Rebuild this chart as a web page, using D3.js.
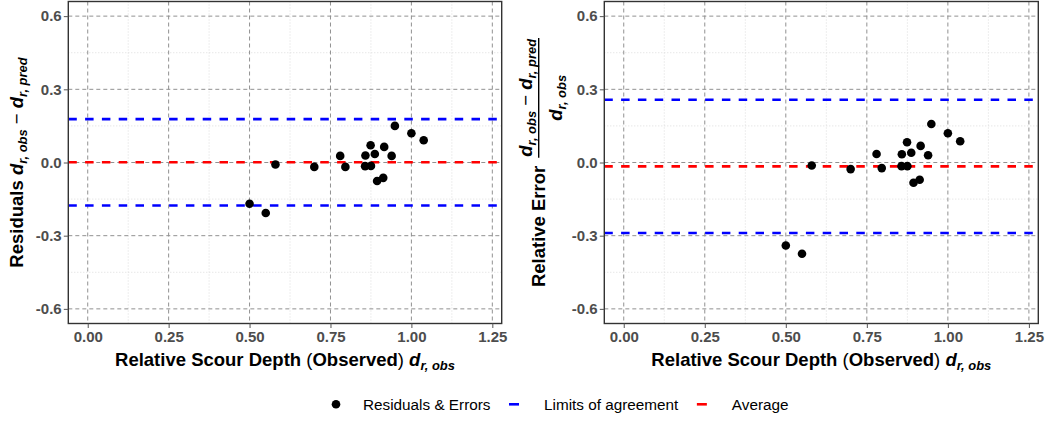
<!DOCTYPE html>
<html>
<head>
<meta charset="utf-8">
<script src="https://cdn.jsdelivr.net/npm/d3@7"></script>
<style>
  html, body { margin: 0; padding: 0; background: #fff; }
  svg { display: block; font-family: "Liberation Sans", Arial, sans-serif; }
  text { white-space: pre; }
</style>
</head>
<body>
<svg id="chart" width="1048" height="421"></svg>
<script>
// Observed relative scour depth for each test
const depthObs = [0.500, 0.550, 0.580, 0.700, 0.780, 0.796, 0.858, 0.857, 0.874,
                  0.875, 0.887, 0.894, 0.913, 0.916, 0.939, 0.949, 1.000, 1.038];
// Residuals d_obs - d_pred
const residuals = [-0.169, -0.207, -0.008, -0.018, 0.027, -0.018, 0.029, -0.015, 0.071,
                   -0.014, 0.035, -0.076, -0.063, 0.064, 0.027, 0.150, 0.120, 0.091];
// Relative errors (d_obs - d_pred) / d_obs
const relErrors = [-0.340, -0.374, -0.012, -0.027, 0.035, -0.023, 0.034, -0.015, 0.083,
                   -0.015, 0.040, -0.083, -0.071, 0.068, 0.030, 0.158, 0.120, 0.087];

// Bland-Altman style summary lines
const residualMean = 0.001;
const residualLimits = [0.178, -0.176];
const relErrorMean = -0.016;
const relErrorLimits = [0.257, -0.289];

// Axis ticks and grid
const xTicks = [0, 0.25, 0.5, 0.75, 1, 1.25];
const yTicks = [-0.6, -0.3, 0, 0.3, 0.6];
const xMinor = [0.125, 0.375, 0.625, 0.875, 1.125];
const yMinor = [-0.45, -0.15, 0.15, 0.45];
const xDomain = [-0.06, 1.279];
const yDomain = [-0.66, 0.66];

const legendLabels = ["Residuals & Errors", "Limits of agreement", "Average"];

const COLORS = { limits: "#0000ff", mean: "#ff0000", point: "#000000" };
const TITLE_SIZE = 18.5;

const svg = d3.select("#chart");
const loc = d3.formatLocale({ decimal: ".", thousands: ",", grouping: [3], currency: ["", ""], minus: "-" });
const fmtX = loc.format(".2f");
const fmtY = loc.format(".1f");

// Writes plotmath-like rich text: bold words, italic symbols, subscripts
function richText(sel, parts, size) {
  let shifted = false;
  const shift = size * 0.22;
  parts.forEach(p => {
    const t = sel.append("tspan").text(p.t)
      .attr("font-weight", p.w || "bold")
      .attr("font-style", p.it ? "italic" : "normal");
    if (p.sub) {
      t.attr("font-size", size * 0.7);
      if (!shifted) { t.attr("dy", shift); shifted = true; }
    } else if (shifted) {
      t.attr("dy", -shift); shifted = false;
    }
  });
  return sel;
}

function drawPanel(box, values, mean, limits) {
  const x = d3.scaleLinear().domain(xDomain).range([box.left, box.right]);
  const y = d3.scaleLinear().domain(yDomain).range([box.bottom, box.top]);
  const g = svg.append("g");

  // minor grid (dotted)
  g.selectAll(null).data(xMinor).join("line")
    .attr("x1", d => x(d)).attr("x2", d => x(d))
    .attr("y1", box.top).attr("y2", box.bottom)
    .attr("stroke", "#dcdcdc").attr("stroke-width", 1).attr("stroke-dasharray", "1,2");
  g.selectAll(null).data(yMinor).join("line")
    .attr("x1", box.left).attr("x2", box.right)
    .attr("y1", d => y(d)).attr("y2", d => y(d))
    .attr("stroke", "#dcdcdc").attr("stroke-width", 1).attr("stroke-dasharray", "1,2");

  // major grid (dashed)
  g.selectAll(null).data(xTicks).join("line")
    .attr("x1", d => x(d)).attr("x2", d => x(d))
    .attr("y1", box.top).attr("y2", box.bottom)
    .attr("stroke", "#919191").attr("stroke-width", 1).attr("stroke-dasharray", "4,3");
  g.selectAll(null).data(yTicks).join("line")
    .attr("x1", box.left).attr("x2", box.right)
    .attr("y1", d => y(d)).attr("y2", d => y(d))
    .attr("stroke", "#919191").attr("stroke-width", 1).attr("stroke-dasharray", "4,3");

  // limits of agreement and mean
  g.selectAll(null).data(limits).join("line")
    .attr("x1", box.left).attr("x2", box.right)
    .attr("y1", d => y(d)).attr("y2", d => y(d))
    .attr("stroke", COLORS.limits).attr("stroke-width", 2.6).attr("stroke-dasharray", "8.5,8.3");
  g.append("line")
    .attr("x1", box.left).attr("x2", box.right)
    .attr("y1", y(mean)).attr("y2", y(mean))
    .attr("stroke", COLORS.mean).attr("stroke-width", 2.6).attr("stroke-dasharray", "8.5,8.3");

  // points
  g.selectAll(null).data(depthObs.map((d, i) => [d, values[i]])).join("circle")
    .attr("cx", d => x(d[0])).attr("cy", d => y(d[1])).attr("r", 4.3)
    .attr("fill", COLORS.point);

  // panel border
  g.append("rect")
    .attr("x", box.left).attr("y", box.top)
    .attr("width", box.right - box.left).attr("height", box.bottom - box.top)
    .attr("fill", "none").attr("stroke", "#333333").attr("stroke-width", 1.4);

  // axes
  const ax = g.append("g").attr("transform", `translate(0,${box.bottom})`)
    .call(d3.axisBottom(x).tickValues(xTicks).tickFormat(fmtX).tickSize(4.5).tickPadding(3.7));
  const ay = g.append("g").attr("transform", `translate(${box.left},0)`)
    .call(d3.axisLeft(y).tickValues(yTicks).tickFormat(fmtY).tickSize(4.5).tickPadding(2.1));
  [ax, ay].forEach(a => {
    a.select(".domain").remove();
    a.selectAll(".tick line").attr("stroke", "#555").attr("stroke-width", 1);
    a.selectAll(".tick text")
      .attr("font-family", "'Liberation Sans', Arial, sans-serif")
      .attr("font-size", 15).attr("font-weight", "bold").attr("fill", "#4d4d4d");
  });

  // x title
  const xt = g.append("text")
    .attr("x", (box.left + box.right) / 2).attr("y", 366)
    .attr("text-anchor", "middle").attr("font-size", TITLE_SIZE).attr("fill", "#000");
  richText(xt, [
    { t: "Relative Scour Depth " }, { t: "(", w: "normal" }, { t: "Observed" },
    { t: ")", w: "normal" }, { t: " " }, { t: "d", it: true }, { t: "r, obs", it: true, sub: true }
  ], TITLE_SIZE);

  return { x, y, g };
}

const leftBox = { left: 68.3, right: 501.7, top: 1.5, bottom: 323.5 };
const rightBox = { left: 604.3, right: 1038.3, top: 1.5, bottom: 323.5 };

drawPanel(leftBox, residuals, residualMean, residualLimits);
drawPanel(rightBox, relErrors, relErrorMean, relErrorLimits);

// left y title
const ly = svg.append("text")
  .attr("transform", `translate(23,${(leftBox.top + leftBox.bottom) / 2}) rotate(-90)`)
  .attr("text-anchor", "middle").attr("font-size", TITLE_SIZE).attr("fill", "#000");
richText(ly, [
  { t: "Residuals " }, { t: "d", it: true }, { t: "r, obs", it: true, sub: true },
  { t: " \u2212 ", w: "normal" }, { t: "d", it: true }, { t: "r, pred", it: true, sub: true }
], TITLE_SIZE);

// right y title: "Relative Error" followed by a fraction
const ry = svg.append("g")
  .attr("transform", `translate(545,${(rightBox.top + rightBox.bottom) / 2}) rotate(-90)`)
  .attr("font-size", TITLE_SIZE).attr("fill", "#000");
const ryLabel = ry.append("text").attr("font-weight", "bold").text("Relative Error");
const num = richText(ry.append("text").attr("text-anchor", "middle"), [
  { t: "d", it: true }, { t: "r, obs", it: true, sub: true },
  { t: " \u2212 ", w: "normal" }, { t: "d", it: true }, { t: "r, pred", it: true, sub: true }
], TITLE_SIZE);
const den = richText(ry.append("text").attr("text-anchor", "middle"), [
  { t: "d", it: true }, { t: "r, obs", it: true, sub: true }
], TITLE_SIZE);
const w1 = ryLabel.node().getComputedTextLength();
const wn = num.node().getComputedTextLength();
const wd = den.node().getComputedTextLength();
const fracW = Math.max(wn, wd) + 2;
const gap = 8;
const start = -(w1 + gap + fracW) / 2;
ryLabel.attr("x", start).attr("y", 0);
const barStart = start + w1 + gap;
ry.append("line").attr("x1", barStart).attr("x2", barStart + fracW)
  .attr("y1", -6.3).attr("y2", -6.3).attr("stroke", "#000").attr("stroke-width", 1.4);
num.attr("x", barStart + fracW / 2).attr("y", -13);
den.attr("x", barStart + fracW / 2).attr("y", 17);

// legend
const lg = svg.append("g").attr("font-size", 15.3).attr("fill", "#000");
const legY = 404.3;
let cx = 336;
legendLabels.forEach((label, i) => {
  if (i === 0) {
    lg.append("circle").attr("cx", cx).attr("cy", legY).attr("r", 4.3).attr("fill", COLORS.point);
  } else {
    lg.append("line").attr("x1", cx - 5).attr("x2", cx + 5)
      .attr("y1", legY).attr("y2", legY)
      .attr("stroke", i === 1 ? COLORS.limits : COLORS.mean).attr("stroke-width", 2.6);
  }
  const tx = cx + (i === 0 ? 27 : 30);
  const t = lg.append("text").attr("x", tx).attr("y", legY + 5.4).text(label);
  cx = tx + t.node().getComputedTextLength() + 23.5;
});
</script>
</body>
</html>
